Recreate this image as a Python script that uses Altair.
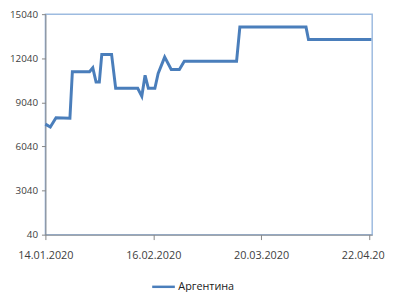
import altair as alt
import pandas as pd

# Data
dates = [
    "2020-01-14T00:00:00", "2020-01-15T12:00:00", "2020-01-17T06:00:00",
    "2020-01-21T12:00:00", "2020-01-22T06:00:00", "2020-01-27T12:00:00",
    "2020-01-28T12:00:00", "2020-01-29T12:00:00", "2020-01-30T12:00:00",
    "2020-01-31T06:00:00", "2020-02-03T06:00:00", "2020-02-04T12:00:00",
    "2020-02-11T06:00:00", "2020-02-12T12:00:00", "2020-02-13T12:00:00",
    "2020-02-14T12:00:00", "2020-02-16T12:00:00", "2020-02-17T12:00:00",
    "2020-02-18T00:00:00", "2020-02-19T12:00:00", "2020-02-21T12:00:00",
    "2020-02-24T00:00:00", "2020-02-25T12:00:00", "2020-03-12T12:00:00",
    "2020-03-13T12:00:00", "2020-04-02T18:00:00", "2020-04-03T12:00:00",
    "2020-04-22T18:00:00",
]
values = [
    7560, 7360, 7990,
    7960, 11120, 11120,
    11390, 10420, 10420,
    12300, 12300, 10000,
    10000, 9450, 10880,
    10000, 10000, 11010,
    11280, 12120, 11280,
    11280, 11840, 11840,
    14160, 14160, 13310,
    13310,
]
series_name = "Аргентина"
y_ticks = [40, 3040, 6040, 9040, 12040, 15040]

df = pd.DataFrame({"date": dates, "value": values, "series": [series_name] * len(dates)})

FONT = "Open Sans"
TXT = "#404040"
AX = "#868686"

chart = alt.Chart(df).mark_line(strokeWidth=3).encode(
    x=alt.X(
        "date:T",
        scale=alt.Scale(domain=[alt.DateTime(year=2020, month=1, date=14),
                                alt.DateTime(year=2020, month=4, date=23)]),
        axis=alt.Axis(
            title=None,
            values=[alt.DateTime(year=2020, month=1, date=14),
                    alt.DateTime(year=2020, month=2, date=16),
                    alt.DateTime(year=2020, month=3, date=20),
                    alt.DateTime(year=2020, month=4, date=22)],
            format="%d.%m.%Y",
            grid=False,
            tickSize=5,
            labelPadding=10,
            labelFontSize=11,
            labelOverlap=False,
            labelBound=False,
            labelFlush=False,
        ),
    ),
    y=alt.Y(
        "value:Q",
        scale=alt.Scale(domain=[40, 15040], nice=False, zero=False),
        axis=alt.Axis(title=None, values=y_ticks, format="d", grid=False,
                      tickSize=4, labelPadding=4, labelFontSize=10),
    ),
    color=alt.Color(
        "series:N",
        scale=alt.Scale(range=["#4a7ebb"]),
        legend=alt.Legend(
            title=None,
            orient="none",
            legendX=107,
            legendY=264,
            symbolType="stroke",
            symbolSize=529,
            symbolStrokeWidth=2.5,
            labelOffset=2,
            padding=0,
        ),
    ),
).properties(
    width=332,
    height=224,
    autosize=alt.AutoSizeParams(type="none"),
    padding={"left": 38, "top": 4, "right": 13, "bottom": 56},
).configure_view(
    stroke="#9dbbe0", strokeWidth=1.5
).configure_axis(
    labelFont=FONT, labelColor=TXT,
    domainColor=AX, tickColor=AX, domainWidth=1,
).configure_legend(
    labelFont=FONT, labelFontSize=11, labelColor="#202020",
)

chart.save("out.html", embed_options={"renderer": "svg", "actions": False})
